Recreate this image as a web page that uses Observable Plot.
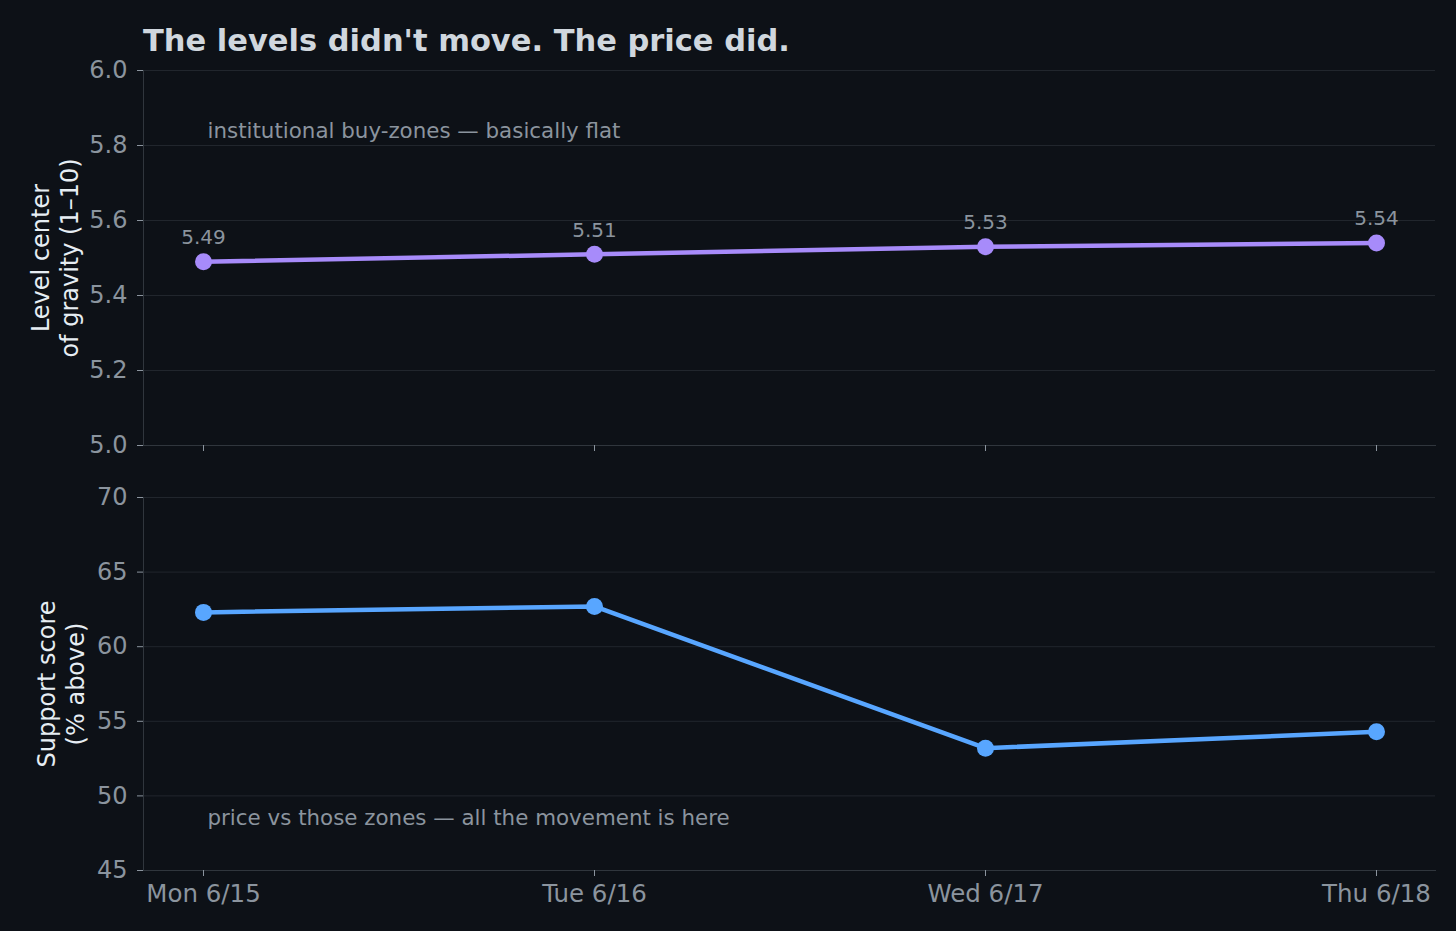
<!DOCTYPE html>
<html>
<head>
<meta charset="utf-8">
<script src="https://cdn.jsdelivr.net/npm/d3@7"></script>
<script src="https://cdn.jsdelivr.net/npm/@observablehq/plot@0.6"></script>
<style>
  html, body { margin: 0; padding: 0; background: #0d1117; }
  #wrap { position: relative; width: 1456px; height: 931px; background: #0d1117; overflow: hidden; }
  #title { position: absolute; left: 143px; top: 25px; font: bold 30.5px "DejaVu Sans", sans-serif; line-height: 31px; color: #d0d7de; white-space: nowrap; z-index: 2; }
  #top { position: absolute; left: 0; top: 0; }
  #bottom { position: absolute; left: 0; top: 460px; }
</style>
</head>
<body>
<div id="wrap">
  <div id="title">The levels didn't move. The price did.</div>
  <div id="top"></div>
  <div id="bottom"></div>
</div>
<script>
const days = ["Mon 6/15", "Tue 6/16", "Wed 6/17", "Thu 6/18"];
const levelCenter = [5.49, 5.51, 5.53, 5.54];
const supportScore = [62.3, 62.7, 53.2, 54.3];
const levelTicks = [5.0, 5.2, 5.4, 5.6, 5.8, 6.0];
const supportTicks = [45, 50, 55, 60, 65, 70];
const levelLabel = "Level center\nof gravity (1–10)";
const supportLabel = "Support score\n(% above)";
const levelNote = "institutional buy-zones — basically flat";
const supportNote = "price vs those zones — all the movement is here";

const levelData = days.map((d, i) => ({day: d, value: levelCenter[i]}));
const supportData = days.map((d, i) => ({day: d, value: supportScore[i]}));

const gridColor = "#21262d";
const spineColor = "#30363d";
const tickColor = "#8b949e";
const font = "DejaVu Sans, sans-serif";
const style = {background: "transparent", color: tickColor, fontFamily: font, fontSize: "24px", overflow: "visible"};

const topPlot = Plot.plot({
  width: 1456, height: 460,
  marginLeft: 143, marginRight: 21, marginTop: 70, marginBottom: 15,
  style,
  x: {type: "point", domain: days, padding: 0.15, label: null},
  y: {domain: [5, 6], label: null},
  marks: [
    Plot.gridY(levelTicks, {stroke: gridColor, strokeOpacity: 1}),
    Plot.frame({anchor: "left", stroke: spineColor}),
    Plot.frame({anchor: "bottom", stroke: spineColor}),
    Plot.axisY(levelTicks, {tickFormat: d => d.toFixed(1), tickSize: 6, tickPadding: 10, label: null, stroke: tickColor, fill: tickColor, fontSize: 24}),
    Plot.axisX({tickSize: 6, tickFormat: () => "", label: null, stroke: tickColor}),
    Plot.line(levelData, {x: "day", y: "value", stroke: "#a78bfa", strokeWidth: 4.5}),
    Plot.dot(levelData, {x: "day", y: "value", r: 8.5, fill: "#a78bfa"}),
    Plot.text(levelData, {x: "day", y: "value", text: d => d.value.toFixed(2), dy: -24, fill: tickColor, fontSize: 20}),
    Plot.text([levelNote], {frameAnchor: "top-left", dx: 64, dy: 61, textAnchor: "start", lineAnchor: "middle", fill: tickColor, fontSize: 21.4}),
    Plot.text([levelLabel], {frameAnchor: "left", dx: -89, rotate: -90, textAnchor: "middle", lineAnchor: "middle", fill: "#e6edf3", fontSize: 24, lineHeight: 1.17})
  ]
});
document.getElementById("top").appendChild(topPlot);

const bottomPlot = Plot.plot({
  width: 1456, height: 471,
  marginLeft: 143, marginRight: 21, marginTop: 37, marginBottom: 61,
  style,
  x: {type: "point", domain: days, padding: 0.15, label: null},
  y: {domain: [45, 70], label: null},
  marks: [
    Plot.gridY(supportTicks, {stroke: gridColor, strokeOpacity: 1}),
    Plot.frame({anchor: "left", stroke: spineColor}),
    Plot.frame({anchor: "bottom", stroke: spineColor}),
    Plot.axisY(supportTicks, {tickSize: 6, tickPadding: 10, label: null, stroke: tickColor, fill: tickColor, fontSize: 24}),
    Plot.axisX({tickSize: 6, tickPadding: 8, label: null, stroke: tickColor, fill: tickColor, fontSize: 24.5}),
    Plot.line(supportData, {x: "day", y: "value", stroke: "#58a6ff", strokeWidth: 4.5}),
    Plot.dot(supportData, {x: "day", y: "value", r: 8.5, fill: "#58a6ff"}),
    Plot.text([supportNote], {frameAnchor: "bottom-left", dx: 64, dy: -52, textAnchor: "start", lineAnchor: "middle", fill: tickColor, fontSize: 21.4}),
    Plot.text([supportLabel], {frameAnchor: "left", dx: -83, rotate: -90, textAnchor: "middle", lineAnchor: "middle", fill: "#e6edf3", fontSize: 24, lineHeight: 1.17})
  ]
});
document.getElementById("bottom").appendChild(bottomPlot);
</script>
</body>
</html>
